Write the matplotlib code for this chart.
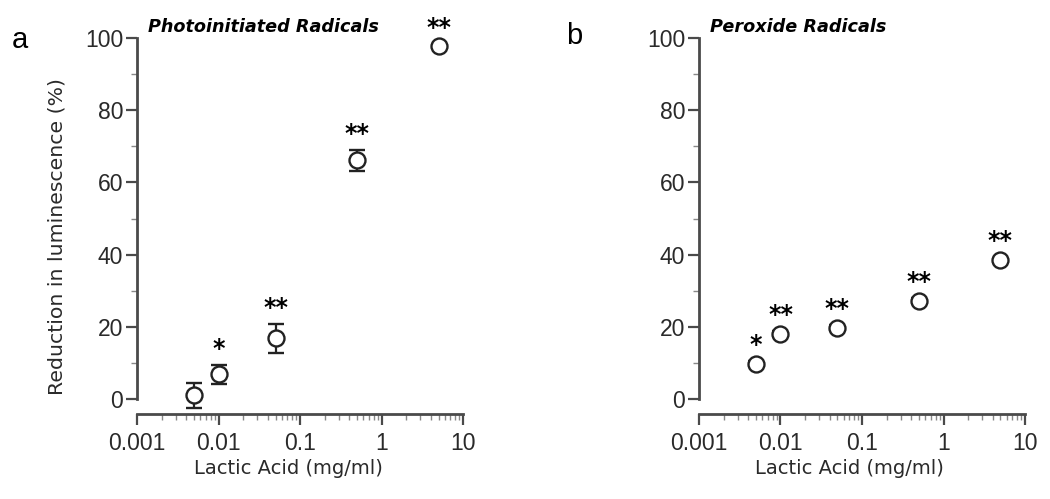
import matplotlib.pyplot as plt
import numpy as np
from matplotlib.ticker import FixedLocator, LogLocator, NullFormatter

plt.rcParams['font.family'] = ['Liberation Sans', 'DejaVu Sans']

# lactic acid concentrations (mg/ml)
conc = [0.005, 0.01, 0.05, 0.5, 5]

# panel a: photoinitiated radicals
photo_mean = [1.0, 6.8, 16.8, 66.1, 97.8]
photo_err = [3.5, 2.5, 4.0, 3.0, 0.6]
photo_stars = ['', '*', '**', '**', '**']

# panel b: peroxide radicals
perox_mean = [9.7, 18.0, 19.6, 27.2, 38.4]
perox_err = [0.8, 0.8, 0.8, 0.8, 0.8]
perox_stars = ['*', '**', '**', '**', '**']

xticks = [0.001, 0.01, 0.1, 1, 10]
xtick_labels = ['0.001', '0.01', '0.1', '1', '10']
yticks = [0, 20, 40, 60, 80, 100]

axcol = '#4a4a4a'
txtcol = '#2a2a2a'

fig = plt.figure(figsize=(10.5, 4.99), dpi=100)
ax_a = fig.add_axes([0.1305, 0.1703, 0.3105, 0.7535])
ax_b = fig.add_axes([0.6657, 0.1703, 0.3105, 0.7535])


def draw_panel(ax, mean, err, stars, title, ylabel=None):
    ax.errorbar(conc, mean, yerr=err, fmt='o', ms=11.5, mfc='white',
                mec='#222222', mew=1.7, ecolor='#222222', elinewidth=1.6,
                capsize=5.5, capthick=1.6, clip_on=False, zorder=3)
    for x, m, e, s in zip(conc, mean, err, stars):
        if s:
            ax.text(x, m + e + 2.5, s, ha='center', va='baseline', family='DejaVu Sans',
                    fontsize=17, fontweight='bold', color='black', clip_on=False)
    ax.set_xscale('log')
    ax.set_xlim(0.001, 10)
    ax.set_ylim(-4.15, 100)
    ax.spines['top'].set_visible(False)
    ax.spines['right'].set_visible(False)
    for sp in ('left', 'bottom'):
        ax.spines[sp].set_color(axcol)
        ax.spines[sp].set_linewidth(2.0)
    ax.spines['left'].set_bounds(0, 100)
    ax.set_xticks(xticks)
    ax.set_xticklabels(xtick_labels)
    ax.xaxis.set_minor_locator(LogLocator(base=10, subs=np.arange(2, 10)))
    ax.xaxis.set_minor_formatter(NullFormatter())
    ax.set_yticks(yticks)
    ax.yaxis.set_minor_locator(FixedLocator([10, 30, 50, 70, 90]))
    ax.tick_params(axis='both', which='major', direction='out', length=8,
                   width=1.6, color=axcol, labelsize=16.5, labelcolor=txtcol)
    ax.tick_params(axis='x', which='major', pad=5)
    ax.tick_params(axis='y', which='major', pad=2)
    ax.tick_params(axis='both', which='minor', direction='out', length=4,
                   width=1.0, color='#888888')
    ax.set_xlabel('Lactic Acid (mg/ml)', fontsize=14, family='DejaVu Sans', color=txtcol)
    ax.xaxis.set_label_coords(0.463, -0.12)
    if ylabel:
        ax.set_ylabel(ylabel, fontsize=14.7, family='DejaVu Sans', color=txtcol)
        ax.yaxis.set_label_coords(-0.215, 0.473)
    ax.text(0.034, 1.03, title, transform=ax.transAxes, fontsize=12.7,
            family='DejaVu Sans', fontweight='bold', fontstyle='italic',
            ha='left', va='center')
    return ax


draw_panel(ax_a, photo_mean, photo_err, photo_stars, 'Photoinitiated Radicals',
           ylabel='Reduction in luminescence (%)')
draw_panel(ax_b, perox_mean, perox_err, perox_stars, 'Peroxide Radicals')

fig.text(12 / 1050, 1 - 40 / 499, 'a', fontsize=21, ha='left', va='center')
fig.text(566 / 1050, 1 - 36 / 499, 'b', fontsize=21, ha='left', va='center')

fig.savefig('out.png', dpi=100)
